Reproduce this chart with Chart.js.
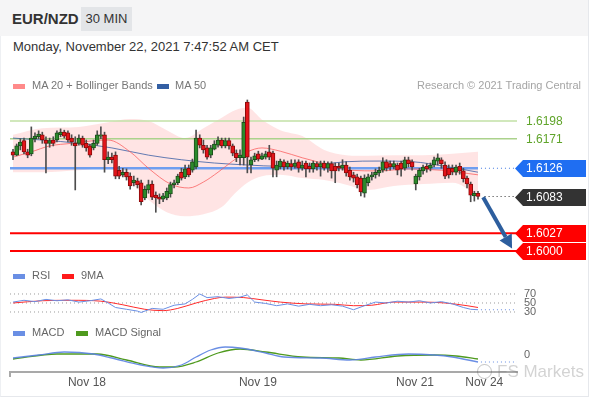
<!DOCTYPE html>
<html>
<head>
<meta charset="utf-8">
<script src="https://cdn.jsdelivr.net/npm/chart.js@4.4.0/dist/chart.umd.min.js"></script>
<style>
  body { margin:0; width:590px; height:400px; background:#fff; font-family:"Liberation Sans", Arial, sans-serif; position:relative; overflow:hidden; }
  .abs { position:absolute; white-space:nowrap; }
  #frame { left:0; top:0; width:587px; height:396px; border-right:1px solid #e6e8ec; border-bottom:1px solid #e6e8ec; border-left:1px solid #eef0f3; }
  #head { left:0; top:0; width:588px; height:36px; background:#f5f5f6; }
  #pair { left:12px; top:10px; font-size:15px; font-weight:bold; color:#333; }
  #tf { left:81px; top:7px; width:51px; height:24px; line-height:24px; text-align:center; background:#e3e5e8; font-size:13px; color:#333; }
  #date { left:13px; top:39px; font-size:13px; color:#333; }
  .leg { font-size:11px; color:#777; }
  .sw { position:absolute; width:12px; height:5px; }
  canvas { position:absolute; left:0; }
</style>
</head>
<body>
<div id="frame" class="abs"></div>
<div id="head" class="abs"></div>
<div id="pair" class="abs">EUR/NZD</div>
<div id="tf" class="abs">30 MIN</div>
<div id="date" class="abs">Monday, November 22, 2021 7:47:52 AM CET</div>

<canvas id="main" width="590" height="200" style="top:62px"></canvas>
<canvas id="rsi" width="590" height="28" style="top:288px"></canvas>
<canvas id="macd" width="590" height="56" style="top:340px"></canvas>

<div class="sw" style="left:13px;top:84px;background:#ff8a8a"></div>
<div class="abs leg" style="left:32px;top:79px">MA 20 + Bollinger Bands</div>
<div class="sw" style="left:157px;top:84px;background:#335fa3"></div>
<div class="abs leg" style="left:175px;top:79px">MA 50</div>
<div class="abs leg" style="right:9px;top:79px;color:#a5a5a5">Research © 2021 Trading Central</div>

<div class="sw" style="left:13px;top:274px;background:#6a8fe4"></div>
<div class="abs leg" style="left:32px;top:269px;color:#666">RSI</div>
<div class="sw" style="left:62px;top:274px;background:#ff1a1a"></div>
<div class="abs leg" style="left:81px;top:269px;color:#666">9MA</div>

<div class="sw" style="left:13px;top:331px;background:#6a8fe4"></div>
<div class="abs leg" style="left:32px;top:326px;color:#666">MACD</div>
<div class="sw" style="left:76px;top:331px;background:#4f9a1e"></div>
<div class="abs leg" style="left:95px;top:326px;color:#666">MACD Signal</div>

<div class="abs" style="left:477px;top:364px;width:13px;height:13px;border:1.5px solid rgba(90,90,90,0.35);border-radius:50%"></div>
<div class="abs" style="left:497px;top:362px;font-size:17px;color:rgba(110,110,110,0.3)">FS Markets</div>

<script>
// EUR/NZD 30 min candles
const opens = [
  1.6151, 1.6146, 1.6160, 1.6168, 1.6151, 1.6148, 1.6171, 1.6174, 1.6177, 1.6169,
  1.6164, 1.6169, 1.6169, 1.6177, 1.6181, 1.6180, 1.6172, 1.6164, 1.6164, 1.6172,
  1.6164, 1.6160, 1.6157, 1.6164, 1.6175, 1.6177, 1.6139, 1.6143, 1.6146, 1.6123,
  1.6116, 1.6120, 1.6114, 1.6104, 1.6107, 1.6104, 1.6081, 1.6093, 1.6102, 1.6085,
  1.6082, 1.6079, 1.6081, 1.6087, 1.6101, 1.6104, 1.6120, 1.6113, 1.6126, 1.6123,
  1.6128, 1.6172, 1.6161, 1.6157, 1.6146, 1.6155, 1.6161, 1.6169, 1.6160, 1.6168,
  1.6160, 1.6149, 1.6142, 1.6142, 1.6227, 1.6131, 1.6139, 1.6148, 1.6140, 1.6143,
  1.6151, 1.6149, 1.6123, 1.6128, 1.6136, 1.6128, 1.6133, 1.6129, 1.6136, 1.6126,
  1.6134, 1.6129, 1.6125, 1.6133, 1.6128, 1.6134, 1.6126, 1.6133, 1.6129, 1.6129,
  1.6126, 1.6131, 1.6123, 1.6116, 1.6113, 1.6111, 1.6088, 1.6104, 1.6113, 1.6116,
  1.6119, 1.6123, 1.6136, 1.6133, 1.6128, 1.6131, 1.6134, 1.6126, 1.6139, 1.6136,
  1.6102, 1.6113, 1.6122, 1.6129, 1.6126, 1.6131, 1.6137, 1.6139, 1.6131, 1.6126,
  1.6126, 1.6120, 1.6129, 1.6122, 1.6111, 1.6102, 1.6084, 1.6088
];
const highs = [
  1.6155, 1.6163, 1.6171, 1.6172, 1.6155, 1.6189, 1.6180, 1.6183, 1.6181, 1.6174,
  1.6172, 1.6174, 1.6183, 1.6186, 1.6184, 1.6183, 1.6177, 1.6174, 1.6177, 1.6175,
  1.6169, 1.6163, 1.6169, 1.6183, 1.6189, 1.6181, 1.6151, 1.6149, 1.6151, 1.6129,
  1.6126, 1.6125, 1.6119, 1.6114, 1.6111, 1.6108, 1.6099, 1.6108, 1.6107, 1.6090,
  1.6087, 1.6088, 1.6096, 1.6105, 1.6108, 1.6117, 1.6126, 1.6131, 1.6131, 1.6140,
  1.6184, 1.6177, 1.6169, 1.6161, 1.6161, 1.6168, 1.6174, 1.6172, 1.6172, 1.6172,
  1.6163, 1.6154, 1.6154, 1.6204, 1.6230, 1.6143, 1.6149, 1.6152, 1.6149, 1.6152,
  1.6161, 1.6152, 1.6137, 1.6140, 1.6139, 1.6137, 1.6139, 1.6139, 1.6139, 1.6137,
  1.6137, 1.6134, 1.6137, 1.6136, 1.6137, 1.6137, 1.6136, 1.6136, 1.6134, 1.6134,
  1.6139, 1.6136, 1.6128, 1.6120, 1.6117, 1.6114, 1.6116, 1.6117, 1.6120, 1.6125,
  1.6128, 1.6142, 1.6139, 1.6137, 1.6137, 1.6134, 1.6137, 1.6143, 1.6143, 1.6139,
  1.6117, 1.6126, 1.6131, 1.6133, 1.6134, 1.6143, 1.6148, 1.6142, 1.6136, 1.6131,
  1.6131, 1.6131, 1.6134, 1.6126, 1.6114, 1.6105, 1.6091, 1.6091
];
const lows = [
  1.6139, 1.6145, 1.6154, 1.6148, 1.6142, 1.6145, 1.6166, 1.6171, 1.6164, 1.6119,
  1.6158, 1.6160, 1.6166, 1.6174, 1.6172, 1.6166, 1.6161, 1.6093, 1.6161, 1.6158,
  1.6152, 1.6143, 1.6154, 1.6161, 1.6171, 1.6120, 1.6133, 1.6134, 1.6110, 1.6110,
  1.6113, 1.6108, 1.6094, 1.6099, 1.6096, 1.6070, 1.6078, 1.6088, 1.6078, 1.6059,
  1.6072, 1.6075, 1.6078, 1.6082, 1.6096, 1.6101, 1.6108, 1.6110, 1.6113, 1.6120,
  1.6125, 1.6157, 1.6149, 1.6140, 1.6142, 1.6154, 1.6158, 1.6157, 1.6157, 1.6155,
  1.6145, 1.6136, 1.6131, 1.6131, 1.6119, 1.6119, 1.6136, 1.6137, 1.6139, 1.6140,
  1.6139, 1.6113, 1.6113, 1.6125, 1.6123, 1.6125, 1.6123, 1.6126, 1.6120, 1.6123,
  1.6113, 1.6120, 1.6120, 1.6123, 1.6114, 1.6123, 1.6120, 1.6111, 1.6104, 1.6122,
  1.6123, 1.6114, 1.6108, 1.6105, 1.6096, 1.6084, 1.6082, 1.6099, 1.6108, 1.6111,
  1.6114, 1.6120, 1.6122, 1.6123, 1.6125, 1.6116, 1.6114, 1.6123, 1.6128, 1.6123,
  1.6093, 1.6108, 1.6117, 1.6120, 1.6122, 1.6128, 1.6131, 1.6126, 1.6110, 1.6111,
  1.6116, 1.6116, 1.6117, 1.6105, 1.6096, 1.6075, 1.6076, 1.6079
];
const closes = [
  1.6146, 1.6160, 1.6166, 1.6151, 1.6146, 1.6172, 1.6175, 1.6178, 1.6169, 1.6164,
  1.6168, 1.6164, 1.6180, 1.6181, 1.6175, 1.6169, 1.6166, 1.6160, 1.6172, 1.6161,
  1.6157, 1.6146, 1.6164, 1.6177, 1.6177, 1.6139, 1.6143, 1.6139, 1.6114, 1.6114,
  1.6120, 1.6113, 1.6099, 1.6108, 1.6101, 1.6075, 1.6094, 1.6101, 1.6082, 1.6081,
  1.6079, 1.6084, 1.6091, 1.6101, 1.6104, 1.6114, 1.6111, 1.6125, 1.6116, 1.6136,
  1.6172, 1.6161, 1.6154, 1.6143, 1.6157, 1.6163, 1.6169, 1.6160, 1.6168, 1.6160,
  1.6149, 1.6142, 1.6146, 1.6196, 1.6143, 1.6139, 1.6145, 1.6140, 1.6145, 1.6148,
  1.6143, 1.6126, 1.6131, 1.6137, 1.6128, 1.6134, 1.6128, 1.6134, 1.6126, 1.6131,
  1.6125, 1.6125, 1.6134, 1.6128, 1.6133, 1.6126, 1.6133, 1.6122, 1.6122, 1.6126,
  1.6131, 1.6119, 1.6113, 1.6111, 1.6101, 1.6090, 1.6111, 1.6113, 1.6116, 1.6120,
  1.6123, 1.6136, 1.6126, 1.6128, 1.6133, 1.6123, 1.6125, 1.6139, 1.6133, 1.6128,
  1.6114, 1.6123, 1.6128, 1.6125, 1.6131, 1.6139, 1.6142, 1.6133, 1.6114, 1.6116,
  1.6120, 1.6128, 1.6122, 1.6110, 1.6102, 1.6085, 1.6088, 1.6083
];

// overlays, read at a few candle indexes
const maIdx   = [0, 5, 10, 16, 22, 26, 32, 37, 43, 48, 52, 56, 60, 64, 68, 73, 79, 85, 92, 100, 108, 117, 127];
const ma20    = [1.6143, 1.6151, 1.6160, 1.6164, 1.6168, 1.6169, 1.6151, 1.6126, 1.6102, 1.6096, 1.6105, 1.6120,
                 1.6137, 1.6151, 1.6157, 1.6152, 1.6142, 1.6133, 1.6123, 1.6122, 1.6125, 1.6123, 1.6116];
const bbIdx   = [0, 8, 18, 26, 32, 37, 42, 47, 52, 57, 61, 64, 68, 73, 79, 85, 91, 97, 104, 112, 120, 127];
const bbUpper = [1.6177, 1.6187, 1.6189, 1.6196, 1.6201, 1.6198, 1.6184, 1.6172, 1.6187, 1.6203, 1.6215,
                 1.6218, 1.6200, 1.6184, 1.6175, 1.6154, 1.6146, 1.6145, 1.6146, 1.6146, 1.6148, 1.6151];
const bbLower = [1.6120, 1.6120, 1.6123, 1.6126, 1.6105, 1.6078, 1.6059, 1.6053, 1.6056, 1.6067, 1.6090,
                 1.6104, 1.6114, 1.6116, 1.6111, 1.6108, 1.6101, 1.6093, 1.6099, 1.6102, 1.6104, 1.6085];
const ma50Idx = [0, 8, 18, 27, 37, 46, 55, 64, 73, 82, 91, 100, 109, 118, 127];
const ma50    = [1.6172, 1.6169, 1.6164, 1.6157, 1.6146, 1.6139, 1.6134, 1.6131, 1.6129, 1.6131, 1.6136,
                 1.6137, 1.6136, 1.6129, 1.6120];

// price levels
const levels     = [1.6198, 1.6171, 1.6126, 1.6083, 1.6027, 1.6000];
const levelKinds = ['res', 'res', 'pivot', 'last', 'sup', 'sup'];
const arrowFrom  = [128.4, 1.6082];
const arrowTo    = [136.3, 1.6004];

// RSI panel
const rsiIdx = [0, 3, 6, 9, 12, 15, 18, 21, 24, 26, 28, 31, 34, 35, 38, 41, 44, 47, 49, 51, 53, 56, 59, 62,
                64, 66, 69, 72, 75, 78, 81, 84, 87, 90, 93, 96, 99, 102, 105, 108, 111, 114, 117, 120, 123, 125, 127];
const rsi    = [52, 56, 53, 58, 55, 57, 52, 55, 59, 50, 40, 36, 32, 29, 38, 36, 45, 48, 58, 70, 62, 64, 60, 63,
                68, 52, 49, 44, 48, 43, 47, 44, 46, 43, 35, 44, 52, 50, 54, 52, 55, 50, 53, 48, 40, 36, 35];
const rsiMaIdx = [0, 8, 16, 24, 30, 36, 41, 45, 50, 55, 58, 63, 68, 73, 80, 88, 93, 98, 104, 112, 118, 124, 127];
const rsiMa    = [50, 55, 56, 54, 46, 36, 33, 38, 50, 60, 63, 62, 57, 52, 48, 47, 44, 45, 52, 52, 50, 44, 40];
const rsiLevels = [70, 50, 30];

// MACD panel
const macdIdx = [0, 7, 14, 22, 27, 35, 41, 46, 50, 54, 58, 62, 69, 74, 84, 92, 99, 108, 115, 120, 127];
const macd    = [-0.00015, 0, 0.00015, 0.00005, -0.00015, -0.0005, -0.00065, -0.0005, -0.0001, 0.00025, 0.0004,
                 0.00035, 0.0001, -0.0001, -0.00015, -0.00025, -0.0001, 0.00005, 0, -0.0001, -0.00035];
const sigIdx  = [0, 12, 23, 31, 40, 44, 50, 56, 62, 69, 79, 89, 95, 105, 115, 121, 127];
const signal  = [-0.0002, 0.00005, 0.00005, -0.00025, -0.0006, -0.0006, -0.00035, 0.0001, 0.0003, 0.00015,
                 -0.0001, -0.00015, -0.00025, -0.00005, 0, -0.00005, -0.0002];

const xTickPos    = [20.2, 66.9, 109.8, 128.7];
const xTickLabels = ['Nov 18', 'Nov 19', 'Nov 21', 'Nov 24'];

const X_MIN = -0.82, X_MAX = 137.65;
const FONT = '"Liberation Sans", Arial, sans-serif';
Chart.defaults.font.family = FONT;

const pts = (idx, vals) => idx.map((x, k) => ({ x: x, y: vals[k] }));
const hline = (v, a, b) => [{ x: a, y: v }, { x: b, y: v }];
const last = arr => arr[arr.length - 1];

const up = closes.map((c, i) => c >= opens[i]);
const bodies = closes.map((c, i) => ({ x: i, y: [opens[i], c] }));
const wicks = closes.map((c, i) => ({ x: i, y: [lows[i], highs[i]] }));

const lineDs = (data, color, width, extra) => Object.assign({
  type: 'line', data: data, borderColor: color, borderWidth: width, pointRadius: 0,
  fill: false, cubicInterpolationMode: 'monotone', order: 5
}, extra || {});

const baseX = (show) => ({
  type: 'linear', min: X_MIN, max: X_MAX, offset: false, display: show,
  grid: { display: false, drawTicks: false },
  border: { display: show, color: '#a9a9a9', width: 2 },
  afterBuildTicks: s => { s.ticks = xTickPos.map(v => ({ value: v })); },
  afterFit: s => { if (show) s.height = 24; },
  ticks: { autoSkip: false, maxRotation: 0, padding: 3, color: '#555', font: { size: 12 },
           callback: (v, i) => xTickLabels[i] }
});

const common = {
  responsive: false, animation: false,
  layout: { padding: { left: 10, right: 73, top: 0, bottom: 0 } },
  plugins: { legend: { display: false }, tooltip: { enabled: false } }
};

const boxColors = { pivot: '#1f6ef2', last: '#333333', sup: '#ff0000' };
const levelPlugin = {
  id: 'levelTags',
  afterDatasetsDraw(chart) {
    const { ctx, scales: { x, y } } = chart;
    ctx.save();
    // projection arrow
    const x0 = x.getPixelForValue(arrowFrom[0]), y0 = y.getPixelForValue(arrowFrom[1]);
    const x1 = x.getPixelForValue(arrowTo[0]), y1 = y.getPixelForValue(arrowTo[1]);
    const a = Math.atan2(y1 - y0, x1 - x0);
    const hx = x1 - 13 * Math.cos(a), hy = y1 - 13 * Math.sin(a);
    ctx.strokeStyle = ctx.fillStyle = '#2d5e9e';
    ctx.lineWidth = 4;
    ctx.beginPath(); ctx.moveTo(x0, y0); ctx.lineTo(hx, hy); ctx.stroke();
    ctx.beginPath(); ctx.moveTo(x1, y1);
    ctx.lineTo(hx + 7 * Math.sin(a), hy - 7 * Math.cos(a));
    ctx.lineTo(hx - 7 * Math.sin(a), hy + 7 * Math.cos(a));
    ctx.closePath(); ctx.fill();
    // tags on the right
    ctx.font = '12px ' + FONT;
    ctx.textBaseline = 'middle';
    levels.forEach((v, k) => {
      const py = Math.round(y.getPixelForValue(v)) + 0.5;
      const kind = levelKinds[k], txt = v.toFixed(4);
      if (kind === 'res') { ctx.fillStyle = '#5fa42a'; ctx.fillText(txt, 526, py); return; }
      ctx.fillStyle = boxColors[kind];
      ctx.beginPath();
      ctx.moveTo(515, py); ctx.lineTo(523, py - 8.5); ctx.lineTo(586, py - 8.5);
      ctx.lineTo(586, py + 8.5); ctx.lineTo(523, py + 8.5); ctx.closePath(); ctx.fill();
      ctx.fillStyle = '#fff';
      ctx.fillText(txt, 526, py + 0.5);
    });
    ctx.restore();
  }
};

new Chart(document.getElementById('main'), {
  type: 'bar',
  data: {
    datasets: [
      lineDs(pts(bbIdx, bbUpper), 'rgba(0,0,0,0)', 0, { fill: '+1', backgroundColor: 'rgba(255,120,120,0.2)', order: 20 }),
      lineDs(pts(bbIdx, bbLower), 'rgba(0,0,0,0)', 0, { order: 21 }),
      lineDs(hline(levels[0], X_MIN, X_MAX), '#c2e0a6', 1.5, { order: 15 }),
      lineDs(hline(levels[1], X_MIN, X_MAX), '#abd28c', 1.5, { order: 15 }),
      lineDs(hline(levels[2], X_MIN, 127), '#6f9ef0', 2.5, { order: 15 }),
      lineDs(hline(levels[2], 127.8, X_MAX), '#3f77e0', 1.2, { borderDash: [1, 3], order: 15 }),
      lineDs(hline(levels[3], 128.8, X_MAX), '#333', 1.2, { borderDash: [1, 3], order: 15 }),
      lineDs(hline(levels[4], X_MIN, X_MAX), '#ff0000', 2, { order: 15 }),
      lineDs(hline(levels[5], X_MIN, X_MAX), '#ff0000', 2, { order: 15 }),
      lineDs(pts(maIdx, ma20), 'rgba(250,90,90,0.75)', 1, { order: 8 }),
      lineDs(pts(ma50Idx, ma50), 'rgba(45,85,160,0.75)', 1, { order: 8 }),
      { type: 'bar', data: wicks, backgroundColor: '#4d4d4d', barThickness: 1, grouped: false, order: 3 },
      { type: 'bar', data: bodies, grouped: false, order: 1, barThickness: 4, borderWidth: 1, borderSkipped: false,
        backgroundColor: up.map(u => u ? '#2b8a2b' : '#e3141a'),
        borderColor: up.map(u => u ? '#1c4f1c' : '#8c0a0a') }
    ]
  },
  options: Object.assign({}, common, {
    scales: {
      x: baseX(false),
      y: { display: false, min: 1.598325, max: 1.628786 }
    }
  }),
  plugins: [levelPlugin]
});

const sideText = (items) => ({
  id: 'sideText',
  afterDraw(chart) {
    const { ctx, scales: { y } } = chart;
    ctx.save();
    ctx.font = '11px ' + FONT; ctx.fillStyle = '#666'; ctx.textBaseline = 'middle';
    items.forEach(v => ctx.fillText(String(v), 524, y.getPixelForValue(v)));
    ctx.restore();
  }
});

new Chart(document.getElementById('rsi'), {
  type: 'line',
  data: {
    datasets: rsiLevels.map(v => lineDs(hline(v, X_MIN, X_MAX), '#9a9a9a', 1, { borderDash: [1, 3], order: 9 })).concat([
      lineDs(pts(rsiMaIdx, rsiMa), '#ff2a2a', 1, { order: 4 }),
      lineDs(pts(rsiIdx, rsi), '#6a8fe4', 1, { cubicInterpolationMode: 'default', tension: 0, order: 3 }),
      lineDs(hline(last(rsi), 127.8, X_MAX), '#6a8fe4', 1.2, { borderDash: [1, 3], order: 3 })
    ])
  },
  options: Object.assign({}, common, {
    scales: { x: baseX(false), y: { display: false, min: 21.1, max: 83.3 } }
  }),
  plugins: [sideText(rsiLevels)]
});

const axisTick = {
  id: 'axisTick',
  afterDraw(chart) {
    const { ctx, chartArea } = chart;
    ctx.save();
    ctx.strokeStyle = '#a9a9a9'; ctx.lineWidth = 2;
    ctx.beginPath(); ctx.moveTo(chartArea.left, chartArea.bottom); ctx.lineTo(chartArea.left, chartArea.bottom + 5); ctx.stroke();
    ctx.restore();
  }
};

new Chart(document.getElementById('macd'), {
  type: 'line',
  data: {
    datasets: [
      lineDs(pts(sigIdx, signal), '#4f9a1e', 1.3, { order: 4 }),
      lineDs(pts(macdIdx, macd), 'rgba(90,130,225,0.9)', 1.3, { order: 3 }),
      lineDs(hline(last(macd), 127.8, X_MAX), '#6a8fe4', 1.2, { borderDash: [1, 3], order: 3 })
    ]
  },
  options: Object.assign({}, common, {
    scales: { x: baseX(true), y: { display: false, min: -0.00085, max: 0.00075 } }
  }),
  plugins: [sideText([0]), axisTick]
});
</script>
</body>
</html>
